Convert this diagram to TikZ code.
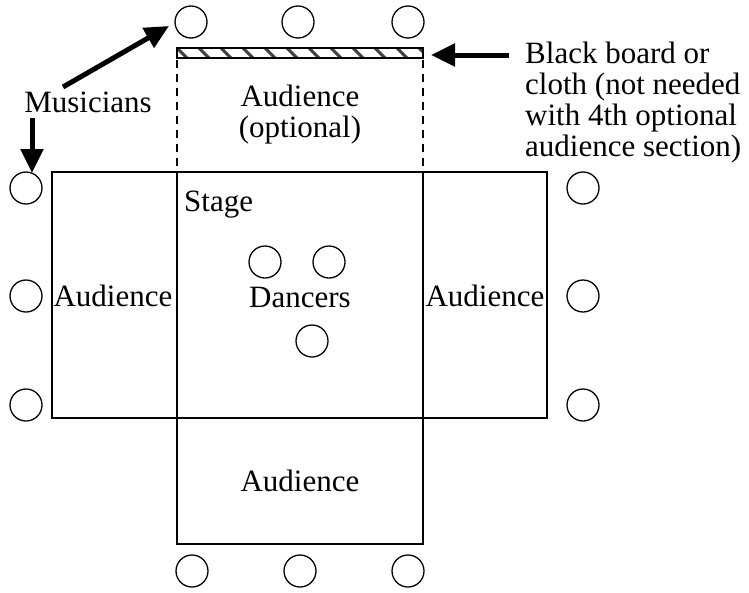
\documentclass[tikz,border=0pt]{standalone}
\usepackage{fontspec}
\setmainfont{Liberation Serif}
\usetikzlibrary{arrows.meta}
\begin{document}
\begin{tikzpicture}[x=1pt,y=-1pt,
  box/.style={draw,line width=1.5pt},
  seat/.style={circle,draw,line width=1.3pt,minimum size=32pt,inner sep=0pt},
  lbl/.style={font=\fontsize{31}{31}\selectfont,inner sep=0pt},
  bigarrow/.style={line width=5pt,-{Triangle[length=24pt,width=22pt]}},
  dashline/.style={line width=1.3pt,dash pattern=on 8pt off 6pt}]
\useasboundingbox (0,0) rectangle (749,592);
% boxes
\draw[box] (177,172) rectangle (423,418);
\draw[box] (52,172) rectangle (177,418);
\draw[box] (423,172) rectangle (547,418);
\draw[box] (177,418) rectangle (423,544);
\draw[dashline] (177,60) -- (177,172);
\draw[dashline] (423,60) -- (423,172);
% board
\begin{scope}
\clip (177,48) rectangle (423,58);
\foreach \i in {0,...,12}{
  \draw[line width=3pt,black!75] ({177+\i*22},48) -- ({177+\i*22+10},58);
}
\end{scope}
\node[draw,line width=1.4pt,minimum width=246pt,minimum height=10pt,inner sep=0pt] (board) at (300,53) {};
% seats
\node[seat] (t1) at (191,22) {};
\node[seat] (t2) at (298,22) {};
\node[seat] (t3) at (408,22) {};
\node[seat] (l1) at (26,188) {};
\node[seat] (l2) at (26,296) {};
\node[seat] (l3) at (26,405) {};
\node[seat] (r1) at (583,188) {};
\node[seat] (r2) at (583,296) {};
\node[seat] (r3) at (583,405) {};
\node[seat] (b1) at (192,571) {};
\node[seat] (b2) at (300,571) {};
\node[seat] (b3) at (408,571) {};
\node[seat] (d1) at (265,262) {};
\node[seat] (d2) at (329,262) {};
\node[seat] (d3) at (312,341) {};
% labels
\node[lbl,anchor=base west] (stage) at (184,211) {Stage};
\node[lbl,anchor=base] (dancers) at (300,307) {Dancers};
\node[lbl,anchor=base] (audl) at (113,306) {Audience};
\node[lbl,anchor=base] (audr) at (485,306) {Audience};
\node[lbl,anchor=base] (audb) at (300,491) {Audience};
\node[lbl,align=center] (audt) at (300,115) {Audience\\(optional)};
\node[lbl,anchor=base] (mus) at (88,112) {Musicians};
\node[lbl,align=left,anchor=north west] (note) at (525,42) {Black board or\\cloth (not needed\\with 4th optional\\audience section)};
% arrows
\coordinate (m1s) at (63,87);
\coordinate (m1e) at (169,26);
\coordinate (m2s) at (32,118);
\coordinate (m2e) at (32,173);
\coordinate (bs) at (509,55);
\coordinate (be) at (431,55);
\draw[bigarrow] (m1s) -- (m1e);
\draw[bigarrow] (m2s) -- (m2e);
\draw[bigarrow] (bs) -- (be);
\end{tikzpicture}
\end{document}
